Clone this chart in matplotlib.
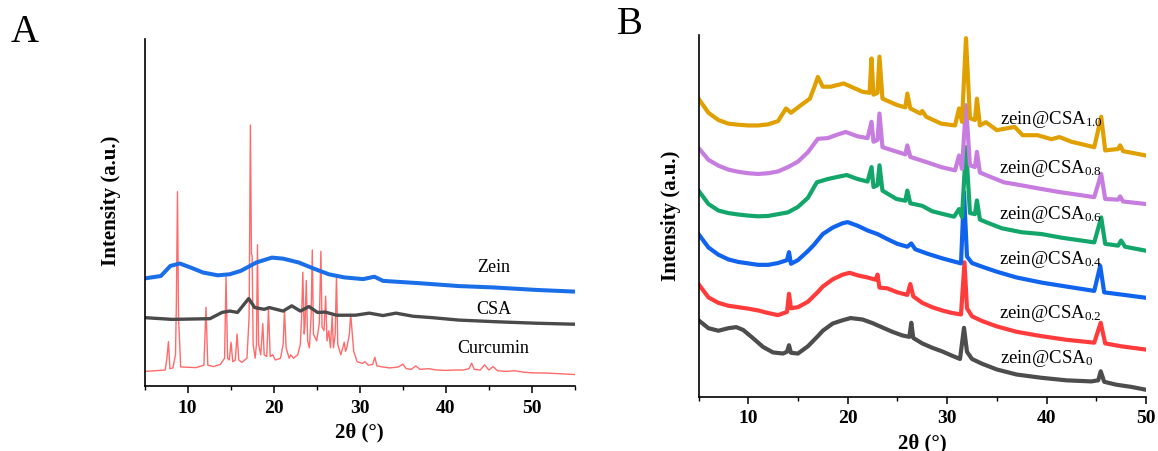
import matplotlib
matplotlib.use("Agg")
import matplotlib.pyplot as plt
from matplotlib.ticker import MultipleLocator

plt.rcParams['font.family'] = ['Liberation Serif', 'DejaVu Serif']
plt.rcParams['mathtext.fontset'] = 'custom'
plt.rcParams['mathtext.rm'] = 'Liberation Serif'
plt.rcParams['mathtext.it'] = 'Liberation Serif:italic'
plt.rcParams['mathtext.bf'] = 'Liberation Serif:bold'

# ---------------- Panel A data ----------------
zein_x = [5, 6.9, 8.0, 9.1, 10.4, 11.8, 13.5, 14.9, 16.2, 18.0, 19.8, 21.1, 22.9,
          24.7, 26.4, 28.2, 30.4, 31.7, 32.7, 37.1, 41.5, 45.6, 50.4, 55]
zein_y = [31.0, 31.7, 34.6, 35.3, 34.1, 32.7, 31.9, 32.2, 33.2, 35.6, 37.0, 36.7, 35.6,
          33.8, 32.2, 31.3, 30.8, 31.5, 30.3, 29.6, 28.8, 28.4, 27.7, 27.2]

csa_x = [5, 8.2, 12.6, 14.0, 14.9, 15.8, 17.1, 17.8, 18.9, 19.5, 21.1, 22.1, 23.1,
         24.1, 25.1, 26.0, 27.3, 29.5, 31.1, 32.7, 34.2, 36.2, 38.4, 41.5, 46.0, 50.4, 55]
csa_y = [19.7, 19.2, 19.4, 21.2, 21.6, 21.2, 25.2, 22.6, 22.1, 22.6, 21.6, 23.1, 21.6,
         22.9, 21.2, 21.3, 20.4, 20.4, 21.0, 20.3, 21.0, 20.1, 19.7, 19.0, 18.5, 18.1, 17.8]

cur_x = [5, 7.4, 7.6, 7.78, 7.95, 8.3, 8.6, 8.7, 8.83, 8.95, 9.2, 10, 11, 11.9, 12.14,
         12.35, 13, 13.8, 14.3, 14.47, 14.65, 14.85, 15.05, 15.25, 15.55, 15.75, 15.95,
         16.3, 16.9, 17.15, 17.3, 17.42, 17.5, 17.62, 17.85, 18.0, 18.12, 18.25, 18.5,
         18.74, 18.9, 19.2, 19.4, 19.6, 19.9, 20.2, 20.8, 21.1, 21.26, 21.45, 21.8, 22.0,
         22.3, 22.8, 23.1, 23.25, 23.39, 23.55, 23.65, 23.79, 23.95, 24.15, 24.35, 24.49,
         24.62, 24.8, 25.0, 25.3, 25.49, 25.62, 25.85, 26.04, 26.2, 26.4, 26.6, 26.8,
         26.95, 27.15, 27.3, 27.45, 27.8, 28.2, 28.35, 28.5, 28.8, 28.95, 29.3, 29.7,
         30.3, 30.6, 31.0, 31.5, 31.75, 32.0, 32.6, 33.5, 34.5, 35.0, 35.4, 36.0, 36.5,
         37.0, 38.0, 39, 40, 41, 42, 42.7, 43.0, 43.3, 44.0, 44.5, 45.0, 45.5, 46.0,
         47, 48, 49, 50, 52, 55]
cur_y = [4.2, 4.6, 8, 12.8, 5.0, 5.2, 9, 24, 56.0, 20, 5.5, 5.4, 5.3, 6, 22.7,
         6, 5.6, 6.2, 8, 31.5, 8, 7.5, 12.6, 7, 7.5, 15.0, 7.5,
         6.8, 8, 20, 75.2, 38, 37.6, 12, 8, 12, 40.7, 12, 9,
         18.0, 9, 8.5, 22.4, 8.5, 9, 7.5, 8, 12, 21.7, 11, 8, 9,
         8, 9, 12, 20, 32.8, 15, 18, 30.4, 13, 11, 20, 39.2,
         15, 14, 13, 18, 38.8, 17, 16, 25.9, 13, 15.9, 11, 20.2,
         11, 15, 31.8, 12, 9, 12.6, 10, 11, 15, 20.7, 10, 7,
         6.5, 7, 6, 6.2, 8.3, 5.8, 5.5, 5.2, 5.5, 6.3, 5, 4.8, 5.8,
         4.8, 5.0, 4.6, 4.5, 4.6, 4.6, 5.0, 6.6, 4.8, 4.6, 6.1, 4.6, 5.6, 4.4,
         4.2, 4.4, 4.0, 3.8, 3.7, 3.3]

a_labels = ["Zein", "CSA", "Curcumin"]
a_label_x = [45.6, 45.6, 45.5]
a_label_y = [34.3, 22.2, 11.0]

# ---------------- Panel B data ----------------
b0_x = [5, 6, 7, 8, 8.8, 9.5, 10.5, 11.5, 12.5, 13.5, 13.9, 14.1, 14.3, 15, 16, 17,
        17.5, 18.5, 19.5, 20.3, 21.5, 22.5, 23.5, 24.5, 25.5, 26.2, 26.4, 26.6, 27.5,
        28.5, 29.5, 30.5, 31.3, 31.7, 32.0, 32.5, 33.5, 35, 37, 39.5, 42, 44.5, 45.2,
        45.45, 45.8, 47, 48.5, 50]
b0_y = [21.2, 19.0, 18.3, 19.0, 19.3, 18.5, 16.2, 13.8, 12.3, 12.0, 12.5, 14.3, 12.2,
        12.0, 14.0, 16.8, 18.3, 20.3, 21.2, 21.8, 21.4, 20.4, 19.2, 18.0, 17.0, 16.6,
        20.5, 16.3, 14.8, 13.6, 12.6, 11.4, 10.5, 19.1, 12.5, 10.5, 9.2, 7.6, 6.2, 5.3,
        4.6, 4.3, 4.6, 7.1, 4.2, 3.4, 2.8, 2.0]

b2_x = [5, 6, 7, 8, 9, 10, 11, 12, 13, 13.9, 14.1, 14.3, 15, 16, 17, 17.5, 18.5, 19.5,
        20.2, 21, 22, 22.8, 23.0, 23.2, 24, 25, 26, 26.3, 26.6, 27.5, 28.5, 29.5, 30.5,
        31.4, 31.75, 32.0, 32.5, 33.5, 35, 37, 39.5, 42, 44.8, 45.45, 45.9, 47.5, 50]
b2_y = [31.2, 27.5, 26.0, 25.2, 24.8, 24.4, 23.9, 23.2, 22.6, 23.5, 28.5, 24.5, 24.8,
        26.3, 29.0, 30.5, 32.5, 33.8, 34.3, 33.6, 33.0, 32.4, 33.8, 30.2, 30.0, 28.9,
        28.2, 31.2, 27.8, 26.0, 24.8, 23.9, 23.2, 22.8, 37.2, 24.5, 22.3, 21.0, 19.5,
        18.0, 16.8, 15.8, 15.0, 20.5, 14.8, 14.0, 13.1]

b4_x = [5, 6, 7, 8, 9, 10, 11, 12, 13, 13.9, 14.1, 14.3, 15, 16, 16.6, 17.5, 18.5,
        19.5, 20, 21, 22, 23, 24, 25, 26, 26.4, 26.8, 28, 29.5, 31, 31.4, 31.7, 32.0,
        32.5, 33.5, 35, 37, 39.5, 42, 44.8, 45.4, 45.8, 47.5, 50]
b4_y = [45.0, 41.3, 39.3, 38.0, 37.3, 36.9, 36.5, 36.5, 37.0, 37.8, 40.0, 36.8, 37.8,
        40.3, 42.0, 45.0, 46.8, 48.0, 48.3, 47.3, 46.0, 45.0, 43.6, 42.3, 41.5, 42.4,
        40.8, 39.6, 38.3, 37.2, 36.9, 56.6, 38.8, 37.0, 36.0, 34.6, 33.0, 31.6, 30.5,
        29.3, 36.2, 28.9, 28.3, 27.4]

b6_x = [5, 6, 7, 8, 9, 10, 11, 12, 13, 14, 15, 16, 16.9, 18, 19, 19.9, 21, 22, 22.4,
        22.6, 23.0, 23.2, 23.5, 24.9, 25.8, 26.0, 26.3, 27.5, 28.5, 29.5, 30.7, 31.2,
        31.5, 31.9, 32.3, 32.8, 33.0, 33.3, 34, 35.5, 37.5, 39.5, 41.5, 44.8, 45.5,
        45.9, 47.2, 47.5, 47.9, 50]
b6_y = [57.0, 53.3, 51.5, 50.8, 50.4, 50.1, 49.9, 50.0, 50.5, 51.0, 52.5, 55.0, 59.3,
        60.2, 60.8, 61.3, 60.2, 59.5, 63.5, 58.0, 58.5, 64.0, 57.0, 54.7, 54.2, 57.0,
        53.5, 52.8, 51.3, 50.6, 49.8, 51.9, 49.7, 69.0, 50.8, 50.5, 54.3, 49.0, 48.2,
        46.6, 45.5, 45.0, 44.0, 42.7, 49.6, 42.3, 41.8, 43.2, 41.5, 40.4]

b8_x = [5, 6, 7, 8, 9, 10, 11, 12, 13, 14, 15, 16, 17, 18, 19, 19.8, 21, 22, 22.4,
        22.6, 23.0, 23.2, 23.5, 25, 25.8, 26.0, 26.3, 27.9, 29.4, 30.8, 31.2, 31.5,
        31.9, 32.3, 32.8, 33.0, 33.3, 34, 35.7, 37.6, 39.4, 41.3, 44.8, 45.5, 45.9,
        47.2, 47.4, 47.7, 50]
b8_y = [68.8, 65.5, 63.9, 62.8, 62.2, 61.8, 61.6, 61.8, 62.3, 63.5, 65.0, 67.6, 71.3,
        71.5, 72.5, 73.2, 72.0, 71.5, 76.0, 70.5, 71.0, 78.3, 69.0, 67.7, 67.0, 69.5,
        66.3, 64.9, 63.5, 62.6, 66.7, 63.0, 80.6, 64.0, 63.5, 67.7, 62.0, 61.2, 59.3,
        58.4, 57.5, 56.6, 55.2, 61.6, 54.7, 54.5, 55.4, 54.0, 53.3]

b10_x = [5, 6, 7, 8, 9, 10, 11, 12, 13, 13.8, 14.3, 15.3, 16.2, 16.7, 17.0, 17.5,
         18.3, 19.6, 20.5, 21.5, 22.2, 22.4, 22.6, 23.0, 23.2, 23.5, 25.0, 25.8, 26.0,
         26.3, 27.3, 27.5, 27.9, 29.4, 30.8, 31.2, 31.5, 31.9, 32.3, 32.8, 33.0, 33.3,
         33.9, 35.0, 36.8, 37.6, 39.1, 40.5, 41.3, 42.5, 44.8, 45.5, 45.9, 47.2, 47.4,
         47.7, 50]
b10_y = [82.4, 78.5, 76.5, 75.5, 75.2, 75.0, 75.0, 75.3, 76.2, 79.7, 78.5, 80.6, 82.4,
         86.0, 88.4, 85.7, 85.7, 86.6, 85.5, 84.3, 84.0, 93.5, 83.5, 84.0, 94.0, 82.4,
         80.6, 80.0, 83.8, 79.7, 78.3, 79.0, 77.4, 75.5, 75.0, 79.7, 76.0, 99.1, 77.0,
         76.5, 82.4, 75.0, 75.9, 73.7, 74.6, 72.3, 72.3, 71.2, 71.8, 70.5, 69.0, 77.4,
         68.1, 68.5, 69.5, 67.9, 66.7]

b_labels = ["zein@CSA$_\\mathrm{0}$", "zein@CSA$_\\mathrm{0.2}$", "zein@CSA$_\\mathrm{0.4}$",
            "zein@CSA$_\\mathrm{0.6}$", "zein@CSA$_\\mathrm{0.8}$", "zein@CSA$_\\mathrm{1.0}$"]
b_label_x = [35.3, 35.2, 35.2, 35.2, 35.2, 35.3]
b_label_y = [10.8, 23.3, 38.3, 50.6, 63.5, 76.9]

# ---------------- Figure ----------------
fig = plt.figure(figsize=(11.58, 4.52), dpi=100)
axA = fig.add_axes([0.1248, 0.1438, 0.3717, 0.7677])
axB = fig.add_axes([0.6032, 0.1195, 0.3864, 0.8010])

# Panel A
axA.plot(cur_x, cur_y, color='#ff5a5a', lw=1.0, alpha=0.9)
axA.plot(csa_x, csa_y, color='#4a4a4a', lw=2.4)
axA.plot(zein_x, zein_y, color='#1a6fe8', lw=2.9)
for t, x, y in zip(a_labels, a_label_x, a_label_y):
    axA.text(x, y, t, ha='center', va='center', fontsize=13)
axA.set_xlim(5, 55)
axA.set_ylim(0, 100)

# Panel B
b_series = [(b0_x, b0_y, '#4d4d4d'), (b2_x, b2_y, '#ff3b3b'), (b4_x, b4_y, '#0f63ec'),
            (b6_x, b6_y, '#13a66a'), (b8_x, b8_y, '#c77ddf'), (b10_x, b10_y, '#e0a000')]
for xs, ys, c in b_series:
    axB.plot(xs, ys, color=c, lw=3.0, solid_joinstyle='round')
for t, x, y in zip(b_labels, b_label_x, b_label_y):
    axB.text(x, y, t, ha='left', va='center', fontsize=13.5)
axB.set_xlim(5, 50)
axB.set_ylim(0, 100)

for ax in (axA, axB):
    for s in ('top', 'right'):
        ax.spines[s].set_visible(False)
    ax.spines['left'].set_linewidth(1.2)
    ax.spines['bottom'].set_linewidth(1.2)
    ax.set_yticks([])
    ax.xaxis.set_major_locator(MultipleLocator(10))
    ax.xaxis.set_minor_locator(MultipleLocator(5))
    ax.tick_params(axis='x', which='major', direction='out', length=5, width=1.1, pad=4)
    ax.tick_params(axis='x', which='minor', direction='out', length=3, width=1.0)
    for lab in ax.get_xticklabels():
        lab.set_fontsize(14)
        lab.set_fontweight('bold')
    ax.set_xlabel('2θ (°)', fontsize=15, fontweight='bold', labelpad=4)
    ax.set_ylabel('Intensity (a.u.)', fontsize=15, fontweight='bold')

axA.yaxis.set_label_coords(-0.055, 0.536)
axB.yaxis.set_label_coords(-0.04, 0.503)

fig.text(0.0216, 0.928, 'A', fontsize=28, ha='center', va='center')
fig.text(0.5435, 0.945, 'B', fontsize=28, ha='center', va='center')

fig.savefig('out.png', dpi=100)
